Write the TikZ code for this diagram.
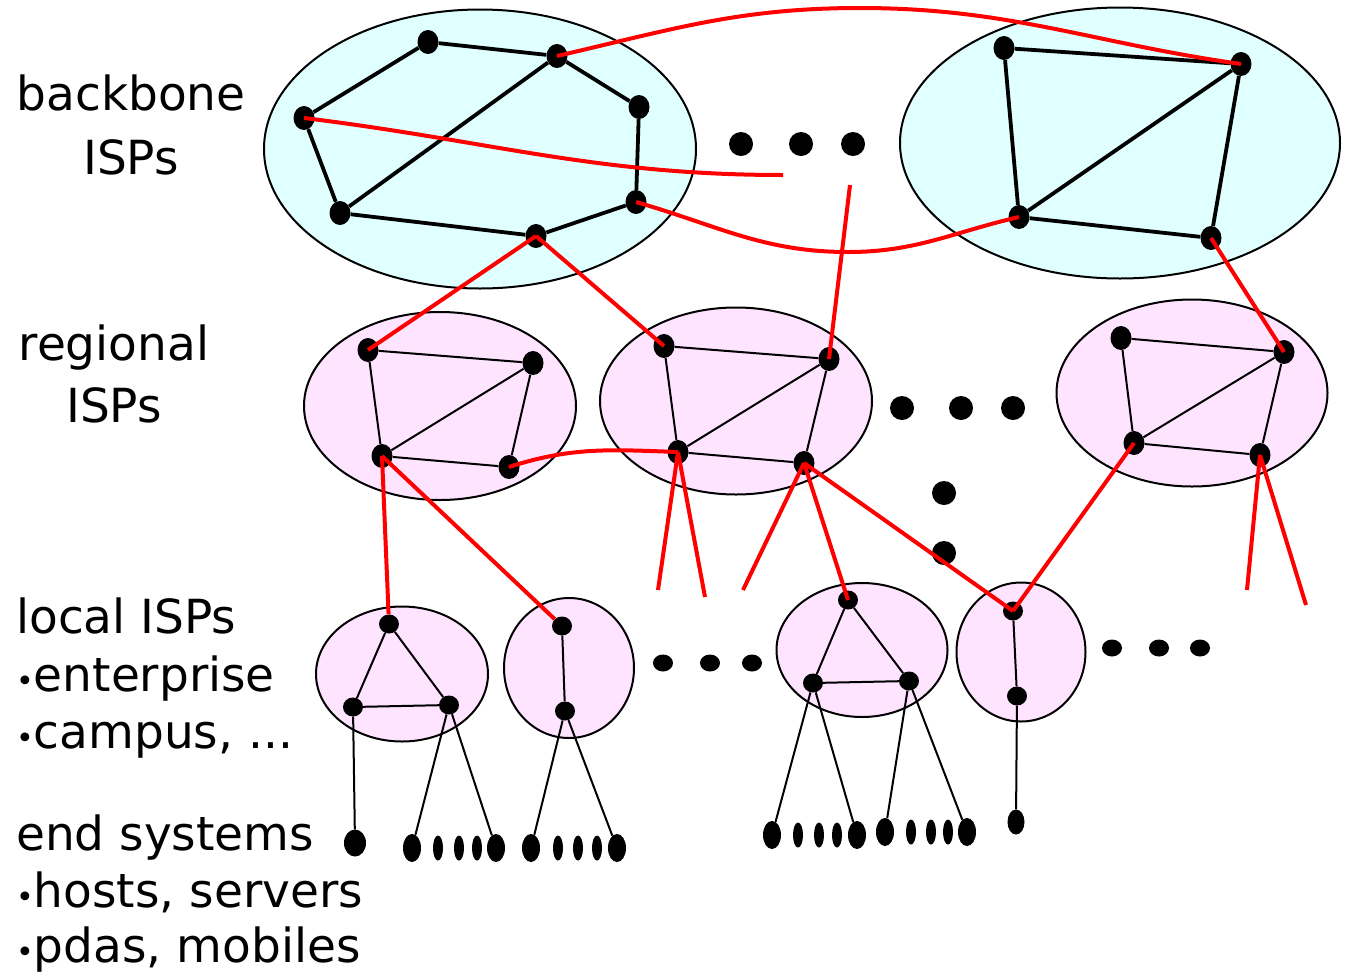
\documentclass[tikz,border=0pt]{standalone}
\usepackage{fontspec}
\setmainfont{DejaVu Sans}
\usepackage{tikz}
\usetikzlibrary{shapes.geometric}
\usepackage{xcolor}
\definecolor{bbfill}{RGB}{224,255,255}
\definecolor{rgfill}{RGB}{255,228,255}
\newcommand{\itemdot}{{\fontsize{30}{30}\selectfont •}}

\begin{document}
\begin{tikzpicture}[
                x=1pt, y=-1pt,
                lbl/.style={inner sep=0pt, font=\fontsize{47}{58}\selectfont},
                bbcloud/.style={ellipse, draw, line width=2pt, fill=bbfill, inner sep=0pt},
                rgcloud/.style={ellipse, draw, line width=2pt, fill=rgfill, inner sep=0pt},
                router/.style={ellipse, fill=black, inner sep=0pt, minimum width=21pt, minimum height=24pt},
                lrouter/.style={ellipse, fill=black, inner sep=0pt, minimum width=20pt, minimum height=19pt},
                host/.style={ellipse, fill=black, inner sep=0pt, minimum width=18pt, minimum height=28pt},
                smallhost/.style={ellipse, fill=black, inner sep=0pt, minimum width=10pt, minimum height=25pt},
                more/.style={circle, fill=black, inner sep=0pt, minimum size=24pt},
                lmore/.style={ellipse, fill=black, inner sep=0pt, minimum width=20pt, minimum height=17pt},
                bbline/.style={line width=3.8pt},
                rgline/.style={line width=2pt},
                link/.style={red, line width=4pt}
            ]
                \useasboundingbox (0,0) rectangle (1345,978);

                % Labels
                \node[lbl, anchor=base] (lblBackbone) at (131,110) {backbone};
                \node[lbl, anchor=base] (lblBackboneIsp) at (131,174) {ISPs};
                \node[lbl, anchor=base] (lblRegional) at (114,360) {regional};
                \node[lbl, anchor=base] (lblRegionalIsp) at (114,422) {ISPs};
                \node[lbl, anchor=base west] (lblLocal) at (16,633) {local ISPs};
                \node[lbl, anchor=base west] (lblEnterprise) at (16,691) {\itemdot enterprise};
                \node[lbl, anchor=base west] (lblCampus) at (16,748) {\itemdot campus, ...};
                \node[lbl, anchor=base west] (lblEnd) at (16,850) {end systems};
                \node[lbl, anchor=base west] (lblHosts) at (16,907) {\itemdot hosts, servers};
                \node[lbl, anchor=base west] (lblPdas) at (16,962) {\itemdot pdas, mobiles};

                % Clouds
                \node[bbcloud, minimum width=432pt, minimum height=279pt] (bbA) at (480,149) {};
                \node[bbcloud, minimum width=440pt, minimum height=271pt] (bbB) at (1120,143) {};
                \node[rgcloud, minimum width=272pt, minimum height=188pt] (rgA) at (440,406) {};
                \node[rgcloud, minimum width=272pt, minimum height=187pt] (rgB) at (736,401) {};
                \node[rgcloud, minimum width=271pt, minimum height=187pt] (rgD) at (1192,393) {};
                \node[rgcloud, minimum width=172pt, minimum height=135pt] (lcA) at (402,674) {};
                \node[rgcloud, minimum width=130pt, minimum height=140pt] (lcB) at (569,668) {};
                \node[rgcloud, minimum width=171pt, minimum height=134pt] (lcC) at (862,650) {};
                \node[rgcloud, minimum width=129pt, minimum height=139pt] (lcD) at (1021,652) {};

                % Backbone ISP A
                \node[router] (bbAa) at (428,42) {};
                \node[router] (bbAb) at (557,56) {};
                \node[router] (bbAc) at (639,107) {};
                \node[router] (bbAd) at (636,202) {};
                \node[router] (bbAe) at (536,236) {};
                \node[router] (bbAf) at (340,213) {};
                \node[router] (bbAg) at (304,118) {};
                \draw[bbline] (bbAg) -- (bbAa) -- (bbAb) -- (bbAc) -- (bbAd) -- (bbAe) -- (bbAf) -- (bbAg);
                \draw[bbline] (bbAf) -- (bbAb);

                % Backbone ISP B
                \node[router] (bbBa) at (1004,48) {};
                \node[router] (bbBb) at (1241,64) {};
                \node[router] (bbBc) at (1019,217) {};
                \node[router] (bbBd) at (1211,238) {};
                \draw[bbline] (bbBa) -- (bbBb) -- (bbBd) -- (bbBc) -- (bbBa);
                \draw[bbline] (bbBc) -- (bbBb);

                % Regional ISPs
                \node[router] (rgAa) at (368,350) {};
                \node[router] (rgAb) at (533,363) {};
                \node[router] (rgAc) at (382,456) {};
                \node[router] (rgAd) at (509,467) {};
                \draw[rgline] (rgAa) -- (rgAb) -- (rgAd) -- (rgAc) -- (rgAa);
                \draw[rgline] (rgAc) -- (rgAb);

                \node[router] (rgBa) at (664,346) {};
                \node[router] (rgBb) at (829,359) {};
                \node[router] (rgBc) at (678,452) {};
                \node[router] (rgBd) at (804,463) {};
                \draw[rgline] (rgBa) -- (rgBb) -- (rgBd) -- (rgBc) -- (rgBa);
                \draw[rgline] (rgBc) -- (rgBb);

                \node[router] (rgDa) at (1121,338) {};
                \node[router] (rgDb) at (1284,352) {};
                \node[router] (rgDc) at (1134,443) {};
                \node[router] (rgDd) at (1260,455) {};
                \draw[rgline] (rgDa) -- (rgDb) -- (rgDd) -- (rgDc) -- (rgDa);
                \draw[rgline] (rgDc) -- (rgDb);

                % Local ISPs
                \node[lrouter] (lcAa) at (389,624) {};
                \node[lrouter] (lcAb) at (353,707) {};
                \node[lrouter] (lcAc) at (449,705) {};
                \draw[rgline] (lcAa) -- (lcAb) -- (lcAc) -- (lcAa);

                \node[lrouter] (lcBa) at (562,626) {};
                \node[lrouter] (lcBb) at (565,711) {};
                \draw[rgline] (lcBa) -- (lcBb);

                \node[lrouter] (lcCa) at (848,600) {};
                \node[lrouter] (lcCb) at (813,683) {};
                \node[lrouter] (lcCc) at (909,681) {};
                \draw[rgline] (lcCa) -- (lcCb) -- (lcCc) -- (lcCa);

                \node[lrouter] (lcDa) at (1013,611) {};
                \node[lrouter] (lcDb) at (1017,696) {};
                \draw[rgline] (lcDa) -- (lcDb);

                % End systems
                \node[host, minimum width=22pt, minimum height=27pt] (hA) at (355,843) {};
                \node[host] (hBa) at (412,848) {};
                \node[host] (hBb) at (496,848) {};
                \foreach \x [count=\i] in {438,459,477} \node[smallhost] (hBs\i) at (\x,848) {};
                \node[host] (hCa) at (531,848) {};
                \node[host] (hCb) at (617,848) {};
                \foreach \x [count=\i] in {558,578,597} \node[smallhost] (hCs\i) at (\x,848) {};
                \node[host] (hDa) at (772,835) {};
                \node[host] (hDb) at (857,835) {};
                \foreach \x [count=\i] in {798,819,837} \node[smallhost] (hDs\i) at (\x,835) {};
                \node[host] (hEa) at (885,832) {};
                \node[host] (hEb) at (967,832) {};
                \foreach \x [count=\i] in {911,931,948} \node[smallhost] (hEs\i) at (\x,832) {};
                \node[host, minimum width=17pt, minimum height=25pt] (hF) at (1016,822) {};

                \draw[rgline] (lcAb) -- (hA);
                \draw[rgline] (lcAc) -- (hBa);
                \draw[rgline] (lcAc) -- (hBb);
                \draw[rgline] (lcBb) -- (hCa);
                \draw[rgline] (lcBb) -- (hCb);
                \draw[rgline] (lcCb) -- (hDa);
                \draw[rgline] (lcCb) -- (hDb);
                \draw[rgline] (lcCc) -- (hEa);
                \draw[rgline] (lcCc) -- (hEb);
                \draw[rgline] (lcDb) -- (hF);

                % More of the same
                \node[more] (mBbA) at (741,144) {};
                \node[more] (mBbB) at (801,144) {};
                \node[more] (mBbC) at (853,144) {};
                \node[more] (mRgA) at (902,408) {};
                \node[more] (mRgB) at (961,408) {};
                \node[more] (mRgC) at (1013,408) {};
                \node[more] (mRgD) at (944,493) {};
                \node[more] (mRgE) at (944,553) {};
                \node[lmore] (mLcA) at (663,663) {};
                \node[lmore] (mLcB) at (710,663) {};
                \node[lmore] (mLcC) at (752,663) {};
                \node[lmore] (mLcD) at (1112,648) {};
                \node[lmore] (mLcE) at (1159,648) {};
                \node[lmore] (mLcF) at (1200,648) {};

                % Loose ends
                \coordinate (endA) at (783,175);
                \coordinate (endB) at (850,185);
                \coordinate (endC) at (658,590);
                \coordinate (endD) at (705,597);
                \coordinate (endE) at (743,590);
                \coordinate (endF) at (1247,590);
                \coordinate (endG) at (1306,605);

                % Links between ISPs
                \draw[link] (bbAb.center) to[out=13,in=180] (860,8) to[out=0,in=172] (bbBb.center);
                \draw[link] (bbAg.center) to[out=-7,in=180] (endA);
                \draw[link] (bbAd.center) to[out=-16,in=180] (848,252) to[out=0,in=193] (bbBc.center);
                \draw[link] (endB) -- (rgBb.center);
                \draw[link] (bbAe.center) -- (rgAa.center);
                \draw[link] (bbAe.center) -- (rgBa.center);
                \draw[link] (bbBd.center) -- (rgDb.center);
                \draw[link] (rgAd.center) to[out=18,in=178] (rgBc.center);
                \draw[link] (rgAc.center) -- (lcAa);
                \draw[link] (rgAc.center) -- (lcBa);
                \draw[link] (rgBc.center) -- (endC);
                \draw[link] (rgBc.center) -- (endD);
                \draw[link] (rgBd.center) -- (endE);
                \draw[link] (rgBd.center) -- (lcCa.center);
                \draw[link] (rgBd.center) -- (lcDa.center);
                \draw[link] (rgDc.center) -- (lcDa.center);
                \draw[link] (rgDd.center) -- (endF);
                \draw[link] (rgDd.center) -- (endG);
            \end{tikzpicture}
\end{document}
